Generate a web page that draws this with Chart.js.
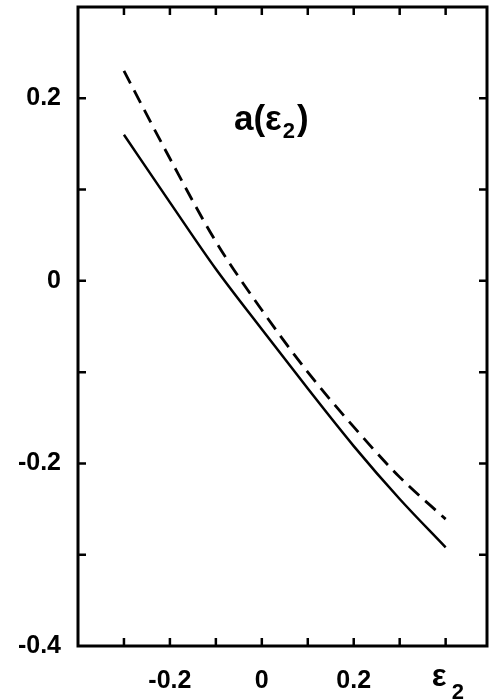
<!DOCTYPE html>
<html>
<head>
<meta charset="utf-8" />
<title>a(ε2)</title>
<script src="https://cdn.jsdelivr.net/npm/chart.js"></script>
<style>
  html, body { margin: 0; padding: 0; background: #fff; }
  #wrap { width: 490px; height: 700px; }
</style>
</head>
<body>
<div id="wrap"><canvas id="chart" width="490" height="700"></canvas></div>
<script>
// values
const eps = [-0.3, -0.2, -0.1, 0, 0.1, 0.2, 0.3, 0.4];
const aSolid = [0.160, 0.086, 0.013, -0.053, -0.118, -0.181, -0.239, -0.292];
const aDashed = [0.230, 0.134, 0.043, -0.032, -0.100, -0.160, -0.215, -0.261];

// axis ticks
const xTicks = [-0.3, -0.2, -0.1, 0, 0.1, 0.2, 0.3, 0.4];
const xLabeled = [-0.2, 0, 0.2];
const yTicks = [-0.3, -0.2, -0.1, 0, 0.1, 0.2];
const yLabeled = [-0.4, -0.2, 0, 0.2];

const FONT = '"Liberation Sans", Arial, sans-serif';

function fmt(v) {
  const r = Math.round(v * 10) / 10;
  if (r === 0) return '0';
  return (r < 0 ? '-' : '') + Math.abs(r).toFixed(1);
}
function has(list, v) {
  return list.some(t => Math.abs(t - v) < 1e-6);
}
function noPad(scale) {
  scale.paddingTop = 0;
  scale.paddingBottom = 0;
  scale.paddingLeft = 0;
  scale.paddingRight = 0;
}

// frame, inward ticks and the text labels
const framePlugin = {
  id: 'frame',
  afterDraw(chart) {
    const ctx = chart.ctx;
    const a = chart.chartArea;
    const xs = chart.scales.x, ys = chart.scales.y;
    ctx.save();
    ctx.strokeStyle = '#000';
    ctx.lineWidth = 3;
    ctx.strokeRect(a.left, a.top, a.right - a.left, a.bottom - a.top);
    ctx.lineWidth = 2.5;
    ctx.beginPath();
    xTicks.forEach(v => {
      const px = xs.getPixelForValue(v);
      ctx.moveTo(px, a.bottom); ctx.lineTo(px, a.bottom - 8);
      ctx.moveTo(px, a.top); ctx.lineTo(px, a.top + 8);
    });
    yTicks.forEach(v => {
      const py = ys.getPixelForValue(v);
      ctx.moveTo(a.left, py); ctx.lineTo(a.left + 8, py);
      ctx.moveTo(a.right, py); ctx.lineTo(a.right - 8, py);
    });
    ctx.stroke();

    // x axis name at the 0.4 tick
    ctx.fillStyle = '#000';
    ctx.textBaseline = 'alphabetic';
    ctx.textAlign = 'left';
    const ex = xs.getPixelForValue(0.4);
    ctx.font = 'bold 31px ' + FONT;
    ctx.fillText('ε', ex - 14, a.bottom + 40);
    ctx.font = 'bold 22px ' + FONT;
    ctx.fillText('2', ex + 6, a.bottom + 53);

    // curve label
    const tx = 234, ty = ys.getPixelForValue(0.165);
    ctx.font = 'bold 35px ' + FONT;
    ctx.fillText('a', tx, ty);
    let w = ctx.measureText('a').width;
    ctx.fillText('(ε', tx + w, ty);
    w += ctx.measureText('(ε').width;
    ctx.font = 'bold 22px ' + FONT;
    ctx.fillText('2', tx + w + 1, ty + 8);
    w += ctx.measureText('2').width + 3;
    ctx.font = 'bold 35px ' + FONT;
    ctx.fillText(')', tx + w, ty);
    ctx.restore();
  }
};

new Chart(document.getElementById('chart'), {
  type: 'line',
  data: {
    datasets: [
      {
        label: 'solid',
        data: eps.map((x, i) => ({ x: x, y: aSolid[i] })),
        borderColor: '#000',
        borderWidth: 2.5,
        pointRadius: 0,
        fill: false,
        cubicInterpolationMode: 'monotone'
      },
      {
        label: 'dashed',
        data: eps.map((x, i) => ({ x: x, y: aDashed[i] })),
        borderColor: '#000',
        borderWidth: 2.8,
        borderDash: [14, 8],
        pointRadius: 0,
        fill: false,
        cubicInterpolationMode: 'monotone'
      }
    ]
  },
  options: {
    responsive: false,
    animation: false,
    layout: { padding: { top: 7, right: 3, left: 0, bottom: 0 } },
    plugins: {
      legend: { display: false },
      title: { display: false },
      tooltip: { enabled: false }
    },
    scales: {
      x: {
        type: 'linear',
        min: -0.4,
        max: 0.49,
        grid: { display: false, drawTicks: false },
        border: { display: false },
        afterBuildTicks: scale => { scale.ticks = xTicks.map(v => ({ value: v })); },
        afterFit: scale => { scale.height = 54; noPad(scale); },
        ticks: {
          autoSkip: false,
          maxRotation: 0,
          padding: 20,
          color: '#000',
          font: { family: FONT, size: 25, weight: 'bold' },
          callback: v => has(xLabeled, v) ? fmt(v) : ''
        }
      },
      y: {
        type: 'linear',
        min: -0.4,
        max: 0.3,
        grid: { display: false, drawTicks: false },
        border: { display: false },
        afterBuildTicks: scale => { scale.ticks = yLabeled.map(v => ({ value: v })); },
        afterFit: scale => { scale.width = 78; noPad(scale); },
        ticks: {
          autoSkip: false,
          padding: 17,
          color: '#000',
          font: { family: FONT, size: 25, weight: 'bold' },
          callback: v => fmt(v)
        }
      }
    }
  },
  plugins: [framePlugin]
});
</script>
</body>
</html>
